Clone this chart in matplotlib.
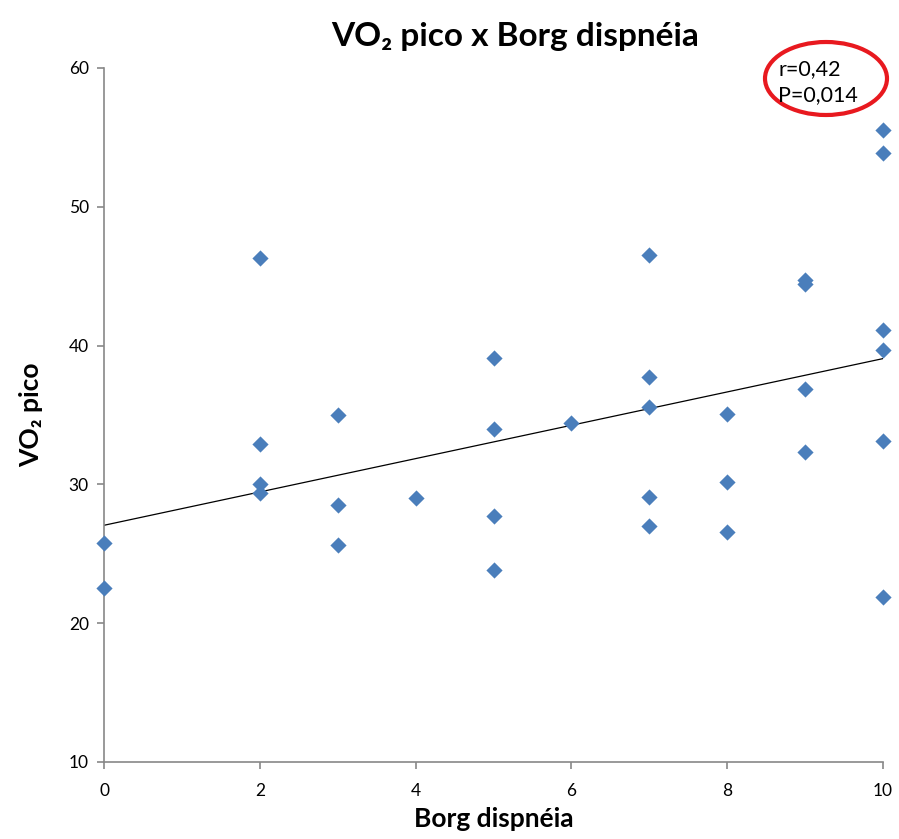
import matplotlib.pyplot as plt
import numpy as np
from matplotlib.patches import Ellipse

plt.rcParams['font.family'] = ['Lato', 'DejaVu Sans']

# Borg dyspnea score vs peak VO2
borg = [0, 0, 2, 2, 2, 2, 3, 3, 3, 4, 5, 5, 5, 5, 6,
        7, 7, 7, 7, 7, 8, 8, 8, 9, 9, 9, 9, 10, 10, 10, 10, 10, 10]
vo2 = [25.8, 22.5, 46.3, 32.9, 30.0, 29.4, 35.0, 28.5, 25.6, 29.0, 39.1, 34.0, 27.7, 23.8, 34.4,
       46.5, 37.7, 35.6, 29.1, 27.0, 35.1, 30.2, 26.6, 44.7, 44.4, 36.9, 32.3,
       55.5, 53.9, 41.1, 39.7, 33.1, 21.9]
x_ticks = [0, 2, 4, 6, 8, 10]
y_ticks = [10, 20, 30, 40, 50, 60]
stats_text = "r=0,42\nP=0,014"

fig = plt.figure(figsize=(8.99, 8.39), dpi=100)
ax = fig.add_axes([0.1157, 0.0918, 0.8665, 0.8272])

ax.scatter(borg, vo2, marker='D', s=68, color='#4a7ebb', zorder=3, linewidths=0,
           clip_on=False)

slope, intercept = np.polyfit(borg, vo2, 1)
xs = np.array([0, 10])
ax.plot(xs, slope * xs + intercept, color='black', lw=0.9, zorder=2)

ax.set_xlim(0, 10)
ax.set_ylim(10, 60)
ax.set_xticks(x_ticks)
ax.set_yticks(y_ticks)
for side in ('top', 'right'):
    ax.spines[side].set_visible(False)
for side in ('left', 'bottom'):
    ax.spines[side].set_color('#888888')
    ax.spines[side].set_linewidth(1.2)
ax.tick_params(colors='#888888', labelcolor='black', labelsize=12.5, length=5, width=1.2)
ax.tick_params(axis='x', pad=10)
ax.tick_params(axis='y', pad=6)

ax.set_xlabel("Borg dispnéia", fontsize=19, fontweight='bold', labelpad=6)
ax.set_ylabel("VO₂ pico", fontsize=19, fontweight='bold', labelpad=18)
fig.text(0.573, 0.957, "VO₂ pico x Borg dispnéia", fontsize=24, fontweight='bold',
         ha='center', va='center')

fig.patches.append(Ellipse((826 / 899, 1 - 78.5 / 839), 122 / 899, 73 / 839,
                           transform=fig.transFigure, fill=False, ec='#e8191f', lw=3))
fig.text(778 / 899, 1 - 82 / 839, stats_text, fontsize=15.5, ha='left', va='center',
         linespacing=1.4)

fig.savefig("out.png", dpi=100)
